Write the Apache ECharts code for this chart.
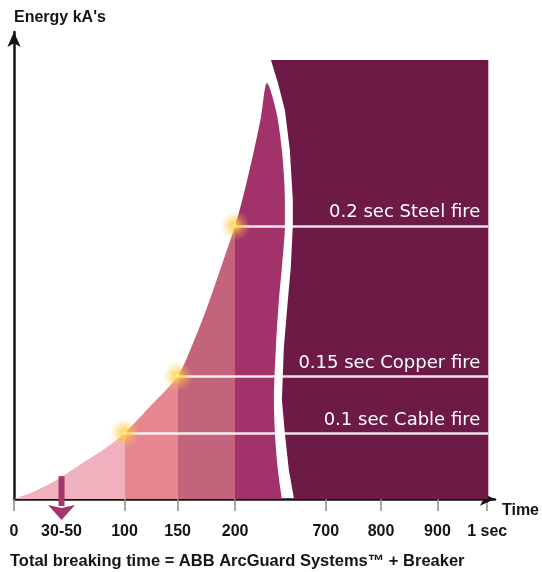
<!DOCTYPE html>
<html>
<head>
<meta charset="utf-8">
<title>Energy vs total breaking time</title>
<script src="https://cdn.jsdelivr.net/npm/echarts@6.0.0/dist/echarts.min.js"></script>
<style>
  html, body { margin: 0; padding: 0; background: #fff; }
  #chart { width: 542px; height: 572px; }
</style>
</head>
<body>
<div id="chart"></div>
<script>
// x axis is a broken time scale: 0-200 ms as drawn, then 700 ms .. 1 sec squeezed
const tickPos = [0, 100, 148, 200, 282, 332, 383, 428];
const tickLabels = ["0", "100", "150", "200", "700", "800", "900", "1 sec"];
const arcGuardPos = 43;
const arcGuardLabel = "30-50";

// energy curve (left edge), then down the pink side of the break
const curveX = [0, 20.7, 38.7, 62.1, 83.8, 100, 122.5, 148, 163, 174.7, 185.5, 193.6, 200, 207.2, 217.1, 223.4, 228.8];
const curveY = [0, 1.9, 4.1, 7.7, 11.1, 14.1, 19.7, 26.3, 34.0, 41.1, 48.4, 54.0, 58.5, 64.7, 74.7, 81.8, 89.1];
const breakX = [236.9, 242.3, 245.0, 245.0, 242.3, 239.6, 236.9, 235.1, 236.0, 238.7, 242.3];
const breakY = [83.3, 74.7, 64.0, 58.7, 49.7, 42.6, 32.5, 21.2, 14.1, 6.2, 0];

// left edge of the dark block (top to bottom)
const darkEdgeX = [232.4, 238.7, 245.0, 249.5, 252.2, 252.2, 250.4, 247.7, 244.1, 242.3, 245.0, 248.6, 253.3];
const darkEdgeY = [94.0, 89.1, 83.3, 74.7, 64.0, 58.7, 49.7, 42.6, 32.5, 21.2, 14.1, 6.2, 0];
const darkRight = 429;
const darkTop = 94;

const bandEdges = [100, 148, 200];
const bandColors = ["#efb1bd", "#e6868f", "#c4647c", "#a2336a"];
const darkColor = "#6d1b46";

const fireX = [100, 148, 200];
const fireY = [14.1, 26.3, 58.5];
const fireLabels = ["0.1 sec Cable fire", "0.15 sec Copper fire", "0.2 sec Steel fire"];

// ArcGuard arrow: [x, top, tip]
const arrowData = [[arcGuardPos, 4.9, -4.5]];

const font = '"Liberation Sans", Arial, sans-serif';
const ink = "#151515";

function labelFor(v) {
  if (v === arcGuardPos) return arcGuardLabel;
  const i = tickPos.indexOf(v);
  return i >= 0 ? tickLabels[i] : "";
}

const chart = echarts.init(document.getElementById("chart"));

chart.setOption({
  animation: false,
  title: {
    text: "Total breaking time = ABB ArcGuard Systems™ + Breaker",
    left: 10,
    top: 553,
    padding: 0,
    textStyle: { fontSize: 16.5, fontWeight: "bold", color: ink, fontFamily: font },
  },
  grid: { left: 14, right: 45, top: 32, bottom: 73 },
  xAxis: {
    type: "value",
    min: 0,
    max: 435,
    name: "Time",
    nameLocation: "end",
    nameGap: 7,
    nameTextStyle: {
      align: "left",
      verticalAlign: "top",
      padding: [4, 0, 0, 0],
      fontSize: 16,
      fontWeight: "bold",
      color: ink,
      fontFamily: font,
    },
    axisLine: {
      lineStyle: { color: ink, width: 2.5 },
      symbol: ["none", "arrow"],
      symbolSize: [10, 15],
    },
    axisTick: {
      show: true,
      customValues: tickPos,
      length: 12,
      lineStyle: { color: "#8a8a8a", width: 1.5 },
    },
    axisLabel: {
      customValues: tickPos.concat([arcGuardPos]),
      formatter: labelFor,
      margin: 25,
      fontSize: 16,
      fontWeight: "bold",
      color: ink,
      fontFamily: font,
    },
    splitLine: { show: false },
  },
  yAxis: {
    type: "value",
    min: 0,
    max: 100,
    name: "Energy kA's",
    nameLocation: "end",
    nameGap: 6,
    nameTextStyle: {
      align: "left",
      fontSize: 16,
      fontWeight: "bold",
      color: ink,
      fontFamily: font,
    },
    axisLine: {
      show: true,
      lineStyle: { color: ink, width: 2.5 },
      symbol: ["none", "arrow"],
      symbolSize: [10, 15],
    },
    axisTick: { show: false },
    axisLabel: { show: false },
    splitLine: { show: false },
  },
  visualMap: {
    type: "piecewise",
    show: false,
    dimension: 0,
    seriesIndex: 0,
    pieces: [
      { lt: bandEdges[0], color: bandColors[0] },
      { gte: bandEdges[0], lt: bandEdges[1], color: bandColors[1] },
      { gte: bandEdges[1], lt: bandEdges[2], color: bandColors[2] },
      { gte: bandEdges[2], color: bandColors[3] },
    ],
  },
  series: [
    {
      name: "energy",
      type: "line",
      silent: true,
      smooth: 0.3,
      showSymbol: false,
      lineStyle: { width: 0 },
      areaStyle: { opacity: 1 },
      z: 2,
      data: curveX
        .map((x, i) => [x, curveY[i]])
        .concat(breakX.map((x, i) => [x, breakY[i]])),
    },
    {
      name: "breaker",
      type: "custom",
      silent: true,
      z: 2,
      data: [[darkRight, darkTop]],
      renderItem(params, api) {
        const pts = darkEdgeX.map((x, i) => api.coord([x, darkEdgeY[i]]));
        pts.push(api.coord([darkRight, 0]), api.coord([darkRight, darkTop]));
        return { type: "polygon", shape: { points: pts }, style: { fill: darkColor } };
      },
      markLine: {
        silent: true,
        symbol: "none",
        lineStyle: { color: "rgba(255,255,255,0.88)", width: 2.5, type: "solid" },
        label: {
          position: "insideEndTop",
          distance: [8, 4],
          formatter: (p) => p.name,
          color: "#fff",
          fontSize: 18,
          fontFamily: '"DejaVu Sans", sans-serif',
        },
        emphasis: { disabled: true },
        data: fireX.map((x, i) => [
          { name: fireLabels[i], coord: [x, fireY[i]] },
          { coord: [darkRight, fireY[i]] },
        ]),
      },
    },
    {
      name: "fire",
      type: "scatter",
      silent: true,
      z: 10,
      symbolSize: 30,
      itemStyle: {
        color: new echarts.graphic.RadialGradient(0.5, 0.5, 0.5, [
          { offset: 0, color: "rgba(255,240,150,1)" },
          { offset: 0.22, color: "rgba(255,205,50,0.95)" },
          { offset: 0.55, color: "rgba(255,195,70,0.45)" },
          { offset: 1, color: "rgba(255,210,100,0)" },
        ]),
      },
      data: fireX.map((x, i) => [x, fireY[i]]),
    },
    {
      name: "arcguard",
      type: "custom",
      silent: true,
      clip: false,
      z: 8,
      data: arrowData,
      renderItem(params, api) {
        const top = api.coord([api.value(0), api.value(1)]);
        const tip = api.coord([api.value(0), api.value(2)]);
        const headH = 15;
        const headW = 27;
        const shaftW = 6;
        const fill = "#a3376c";
        return {
          type: "group",
          children: [
            {
              type: "rect",
              shape: { x: top[0] - shaftW / 2, y: top[1], width: shaftW, height: tip[1] - headH - top[1] + 1 },
              style: { fill },
            },
            {
              type: "polygon",
              shape: {
                points: [
                  [tip[0] - headW / 2, tip[1] - headH],
                  [tip[0], tip[1] - headH + 3],
                  [tip[0] + headW / 2, tip[1] - headH],
                  [tip[0], tip[1]],
                ],
              },
              style: { fill },
            },
          ],
        };
      },
    },
  ],
});
</script>
</body>
</html>
